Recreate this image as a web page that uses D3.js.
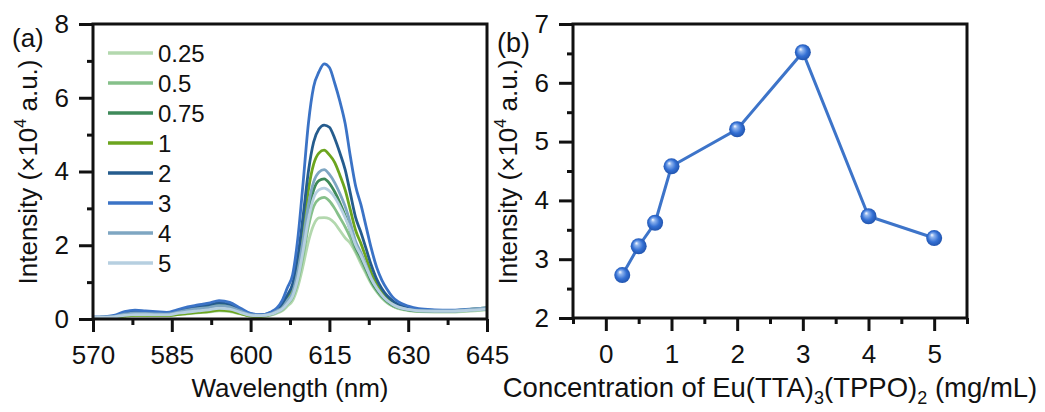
<!DOCTYPE html>
<html>
<head>
<meta charset="utf-8">
<script src="https://cdn.jsdelivr.net/npm/d3@7"></script>
<style>
  body { margin: 0; background: #fff; }
  svg text { font-family: "Liberation Sans", Arial, sans-serif; fill: #111; }
</style>
</head>
<body>
<div id="chart"></div>
<script>
// wavelength grid (nm) shared by all spectra
var wavelengths = [570,572,574,576,578,580,582,584,586,588,590,592,594,596,598,600,602,604,605,606,607,608,609,610,611,612,613,614,615,616,617,618,619,620,621,622,623,624,625,626,627,628,630,632,635,638,641,645];

// concentration labels (mg/mL) and colours for the legend
var seriesNames = ["0.25", "0.5", "0.75", "1", "2", "3", "4", "5"];
var seriesColors = ["#b3d8ae", "#86c08a", "#3f8a5a", "#6ca51e", "#255c8e", "#3b73c6", "#7ea6c2", "#b6cfe0"];

// emission intensities (x10^4 a.u.)
var spec025 = [0.04,0.04,0.05,0.08,0.1,0.1,0.09,0.09,0.12,0.14,0.17,0.19,0.22,0.2,0.14,0.08,0.07,
  0.11,0.16,0.22,0.35,0.5,0.88,1.45,2.1,2.55,2.74,2.75,2.72,2.6,2.4,2.2,2.05,1.8,1.5,1.22,0.95,0.74,0.57,0.44,0.35,0.29,0.23,0.2,0.19,0.19,0.21,0.25];
var spec05 = [0.04,0.04,0.05,0.09,0.11,0.11,0.1,0.1,0.13,0.16,0.19,0.22,0.25,0.23,0.16,0.09,0.08,
  0.12,0.18,0.25,0.4,0.58,1.02,1.7,2.5,3.05,3.25,3.3,3.2,3.0,2.75,2.5,2.2,1.85,1.58,1.28,0.98,0.76,0.58,0.45,0.36,0.3,0.24,0.21,0.2,0.2,0.22,0.26];
var spec075 = [0.04,0.05,0.07,0.12,0.15,0.15,0.14,0.13,0.18,0.24,0.29,0.33,0.38,0.34,0.22,0.11,0.09,
  0.14,0.2,0.28,0.46,0.68,1.2,2.0,2.9,3.5,3.75,3.8,3.68,3.45,3.15,2.8,2.4,1.95,1.68,1.35,1.03,0.8,0.62,0.48,0.38,0.32,0.25,0.22,0.21,0.21,0.24,0.28];
var spec1 = [0.04,0.04,0.05,0.08,0.1,0.1,0.09,0.09,0.12,0.15,0.18,0.2,0.24,0.22,0.15,0.08,0.07,
  0.14,0.22,0.35,0.55,0.8,1.45,2.4,3.5,4.2,4.5,4.58,4.45,4.25,3.9,3.5,2.95,2.4,2.05,1.65,1.25,0.95,0.72,0.56,0.44,0.36,0.28,0.24,0.22,0.22,0.25,0.3];
var spec2 = [0.05,0.05,0.08,0.16,0.2,0.19,0.17,0.16,0.22,0.29,0.34,0.38,0.44,0.4,0.27,0.14,0.11,
  0.18,0.27,0.4,0.65,0.95,1.7,2.8,4.0,4.8,5.15,5.26,5.2,4.9,4.5,4.05,3.4,2.75,2.35,1.9,1.45,1.08,0.82,0.63,0.5,0.4,0.3,0.25,0.23,0.22,0.24,0.28];
var spec3 = [0.05,0.06,0.1,0.2,0.24,0.22,0.2,0.18,0.25,0.33,0.38,0.43,0.5,0.45,0.3,0.15,0.12,
  0.2,0.3,0.5,0.85,1.2,2.2,3.7,5.3,6.3,6.7,6.92,6.82,6.4,5.9,5.3,4.4,3.6,3.1,2.5,1.9,1.4,1.05,0.8,0.6,0.48,0.35,0.28,0.25,0.24,0.26,0.3];
var spec4 = [0.04,0.05,0.07,0.13,0.16,0.15,0.14,0.13,0.18,0.24,0.28,0.31,0.36,0.33,0.22,0.12,0.1,
  0.15,0.22,0.3,0.5,0.72,1.3,2.15,3.1,3.72,3.98,4.05,3.92,3.7,3.4,3.05,2.6,2.1,1.8,1.45,1.1,0.85,0.65,0.5,0.4,0.33,0.26,0.23,0.22,0.22,0.25,0.3];
var spec5 = [0.04,0.05,0.06,0.1,0.12,0.12,0.11,0.11,0.15,0.19,0.22,0.25,0.29,0.27,0.18,0.1,0.09,
  0.13,0.19,0.27,0.42,0.62,1.1,1.85,2.7,3.28,3.5,3.55,3.47,3.3,3.05,2.75,2.4,2.0,1.72,1.4,1.08,0.84,0.65,0.5,0.4,0.33,0.26,0.22,0.21,0.21,0.23,0.27];
var spectra = [spec025, spec05, spec075, spec1, spec2, spec3, spec4, spec5];

// panel (b): peak intensity vs concentration
var concentrations = [0.25, 0.5, 0.75, 1, 2, 3, 4, 5];
var peakIntensity = [2.73, 3.22, 3.62, 4.58, 5.21, 6.52, 3.73, 3.36];

// tick values
var aXTicks = [570, 585, 600, 615, 630, 645];
var aXMinor = [577.5, 592.5, 607.5, 622.5, 637.5];
var aYTicks = [0, 2, 4, 6, 8];
var aYMinor = [1, 3, 5, 7];
var bXTicks = [0, 1, 2, 3, 4, 5];
var bXMinor = [-0.5, 0.5, 1.5, 2.5, 3.5, 4.5, 5.5];
var bYTicks = [2, 3, 4, 5, 6, 7];
var bYMinor = [2.5, 3.5, 4.5, 5.5, 6.5];

var svg = d3.select("#chart").append("svg")
  .attr("width", 1045)
  .attr("height", 412);

var defs = svg.append("defs");
var grad = defs.append("radialGradient")
  .attr("id", "ball")
  .attr("cx", "50%").attr("cy", "50%").attr("r", "55%")
  .attr("fx", "35%").attr("fy", "30%");
grad.append("stop").attr("offset", "0%").attr("stop-color", "#ffffff");
grad.append("stop").attr("offset", "22%").attr("stop-color", "#8fb4ee");
grad.append("stop").attr("offset", "60%").attr("stop-color", "#3470d4");
grad.append("stop").attr("offset", "100%").attr("stop-color", "#1d4ea6");

var tickFont = 26;

// draws frame + ticks for one panel
function drawFrame(g, x, y, xTicks, xMinor, yTicks, yMinor) {
  var x0 = x.range()[0], x1 = x.range()[1];
  var y0 = y.range()[0], y1 = y.range()[1];

  var xAxis = d3.axisBottom(x).tickValues(xTicks).tickFormat(d => d).tickSize(13).tickSizeOuter(0).tickPadding(14);
  var xMin = d3.axisBottom(x).tickValues(xMinor).tickSize(6).tickSizeOuter(0).tickFormat("");
  var yAxis = d3.axisLeft(y).tickValues(yTicks).tickFormat(d => d).tickSize(14).tickSizeOuter(0).tickPadding(10);
  var yMin = d3.axisLeft(y).tickValues(yMinor).tickSize(6).tickSizeOuter(0).tickFormat("");

  [xMin, xAxis].forEach(function(ax) {
    var a = g.append("g").attr("transform", `translate(0,${y0})`).call(ax);
    a.select(".domain").remove();
    a.selectAll(".tick line").attr("stroke", "#111").attr("stroke-width", 3);
    a.selectAll(".tick text").attr("font-size", tickFont).attr("fill", "#111");
  });
  [yMin, yAxis].forEach(function(ax) {
    var a = g.append("g").attr("transform", `translate(${x0},0)`).call(ax);
    a.select(".domain").remove();
    a.selectAll(".tick line").attr("stroke", "#111").attr("stroke-width", 3);
    a.selectAll(".tick text").attr("font-size", tickFont).attr("fill", "#111");
  });

  g.append("rect")
    .attr("x", x0).attr("y", y1)
    .attr("width", x1 - x0).attr("height", y0 - y1)
    .attr("fill", "none")
    .attr("stroke", "#111")
    .attr("stroke-width", 3);
}

function yTitle(g, cx, cy) {
  var t = g.append("text")
    .attr("transform", `translate(${cx},${cy}) rotate(-90)`)
    .attr("text-anchor", "middle")
    .attr("font-size", 26);
  t.append("tspan").text("Intensity (×10");
  t.append("tspan").attr("font-size", 16).attr("dy", -11).text("4");
  t.append("tspan").attr("dy", 11).text(" a.u.)");
}

// ---------------- panel (a) ----------------
var gA = svg.append("g");
var xA = d3.scaleLinear().domain([570, 645]).range([93, 487]);
var yA = d3.scaleLinear().domain([0, 8]).range([319, 24]);

var line = d3.line()
  .x(function(d) { return xA(d[0]); })
  .y(function(d) { return yA(d[1]); })
  .curve(d3.curveMonotoneX);

spectra.forEach(function(s, i) {
  var pts = wavelengths.map(function(w, j) { return [w, s[j]]; });
  gA.append("path")
    .datum(pts)
    .attr("d", line)
    .attr("fill", "none")
    .attr("stroke", seriesColors[i])
    .attr("stroke-width", 2.8)
    .attr("stroke-linejoin", "round");
});

drawFrame(gA, xA, yA, aXTicks, aXMinor, aYTicks, aYMinor);

// legend
var legend = gA.append("g");
seriesNames.forEach(function(name, i) {
  var ly = 53 + i * 30;
  legend.append("line")
    .attr("x1", 108).attr("x2", 153)
    .attr("y1", ly).attr("y2", ly)
    .attr("stroke", seriesColors[i])
    .attr("stroke-width", 3.5);
  legend.append("text")
    .attr("x", 158).attr("y", ly)
    .attr("dy", "0.36em")
    .attr("font-size", 24)
    .text(name);
});

gA.append("text").attr("x", 12).attr("y", 47).attr("font-size", 26).text("(a)");
yTitle(gA, 37, 172);
gA.append("text")
  .attr("x", 290).attr("y", 397)
  .attr("text-anchor", "middle")
  .attr("font-size", 26)
  .text("Wavelength (nm)");

// ---------------- panel (b) ----------------
var gB = svg.append("g");
var xB = d3.scaleLinear().domain([-0.5, 5.5]).range([573, 967]);
var yB = d3.scaleLinear().domain([2, 7]).range([318, 24]);

drawFrame(gB, xB, yB, bXTicks, bXMinor, bYTicks, bYMinor);

var ptsB = concentrations.map(function(c, i) { return [c, peakIntensity[i]]; });
gB.append("path")
  .datum(ptsB)
  .attr("d", d3.line().x(d => xB(d[0])).y(d => yB(d[1])))
  .attr("fill", "none")
  .attr("stroke", "#3d74c9")
  .attr("stroke-width", 3);

gB.selectAll("circle.pt")
  .data(ptsB)
  .enter()
  .append("circle")
  .attr("class", "pt")
  .attr("cx", d => xB(d[0]))
  .attr("cy", d => yB(d[1]))
  .attr("r", 8)
  .attr("fill", "url(#ball)");

gB.append("text").attr("x", 497).attr("y", 52).attr("font-size", 27).text("(b)");
yTitle(gB, 517, 172);

var bTitle = gB.append("text")
  .attr("x", 770).attr("y", 397)
  .attr("text-anchor", "middle")
  .attr("font-size", 27.5);
bTitle.append("tspan").text("Concentration of Eu(TTA)");
bTitle.append("tspan").attr("font-size", 18).attr("dy", 7).text("3");
bTitle.append("tspan").attr("dy", -7).text("(TPPO)");
bTitle.append("tspan").attr("font-size", 18).attr("dy", 7).text("2");
bTitle.append("tspan").attr("dy", -7).text(" (mg/mL)");
</script>
</body>
</html>
